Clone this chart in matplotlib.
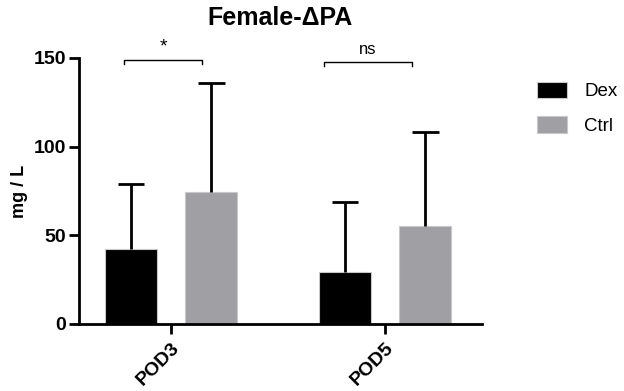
import matplotlib.pyplot as plt
import numpy as np

plt.rcParams['font.family'] = ['Liberation Sans', 'DejaVu Sans']

# data
groups = ['POD3', 'POD5']
series = ['Dex', 'Ctrl']
means = {'Dex': [42.3, 29.3], 'Ctrl': [74.4, 55.3]}
sd_up = {'Dex': [36.7, 39.5], 'Ctrl': [61.5, 53.0]}
colors = {'Dex': '#000000', 'Ctrl': '#a09fa4'}
sig_labels = ['*', 'ns']
sig_spans = [(-0.22, 0.145), (0.715, 1.126)]
sig_heights = [148.9, 147.8]

fig = plt.figure(figsize=(6.24, 3.91), dpi=100)
ax = fig.add_axes([0.1266, 0.1714, 0.6458, 0.6803])

x = np.arange(len(groups))
offsets = {'Dex': -0.187, 'Ctrl': 0.189}
width = 0.243
cap = 0.062

for s in series:
    xs = x + offsets[s]
    m = np.array(means[s])
    top = m + np.array(sd_up[s])
    ax.bar(xs, m, width=width, color=colors[s], edgecolor='#c8c8c8',
           linewidth=0.8, label=s, zorder=2)
    # upper error bar only, like the GraphPad original
    ax.vlines(xs, m, top, color='black', lw=2, zorder=3)
    ax.hlines(top, xs - cap, xs + cap, color='black', lw=2, zorder=3)

# significance brackets
for lab, (x0, x1), h in zip(sig_labels, sig_spans, sig_heights):
    ax.plot([x0, x0, x1, x1], [h - 2.5, h, h, h - 2.5], color='black', lw=1,
            clip_on=False)
    fs = 14 if lab == '*' else 12
    ax.text((x0 + x1) / 2, h + 2.5, lab, ha='center', va='bottom', fontsize=fs,
            clip_on=False)

ax.set_xlim(-0.43, 1.453)
ax.set_ylim(0, 150)
ax.set_yticks([0, 50, 100, 150])
ax.set_xticks(x)
ax.set_xticklabels(groups, rotation=45, ha='right', rotation_mode='anchor',
                   fontsize=14, fontweight='bold')
for t in ax.get_yticklabels():
    t.set_fontsize(14)
    t.set_fontweight('bold')
ax.tick_params(axis='both', width=2, length=7, color='black')
ax.tick_params(axis='x', pad=4)
ax.tick_params(axis='y', pad=2)
for side in ['top', 'right']:
    ax.spines[side].set_visible(False)
for side in ['left', 'bottom']:
    ax.spines[side].set_linewidth(2)

ax.set_ylabel('mg / L', fontsize=13, fontweight='bold', labelpad=4)
ax.set_title('Female-\u0394PA', fontsize=18, fontweight='bold', pad=24)

ax.legend(loc='upper left', bbox_to_anchor=(1.095, 0.975), frameon=False,
          fontsize=13.5, handlelength=1.6, handleheight=1.0, handletextpad=0.9,
          labelspacing=0.85)

fig.savefig('out.png', dpi=100)
